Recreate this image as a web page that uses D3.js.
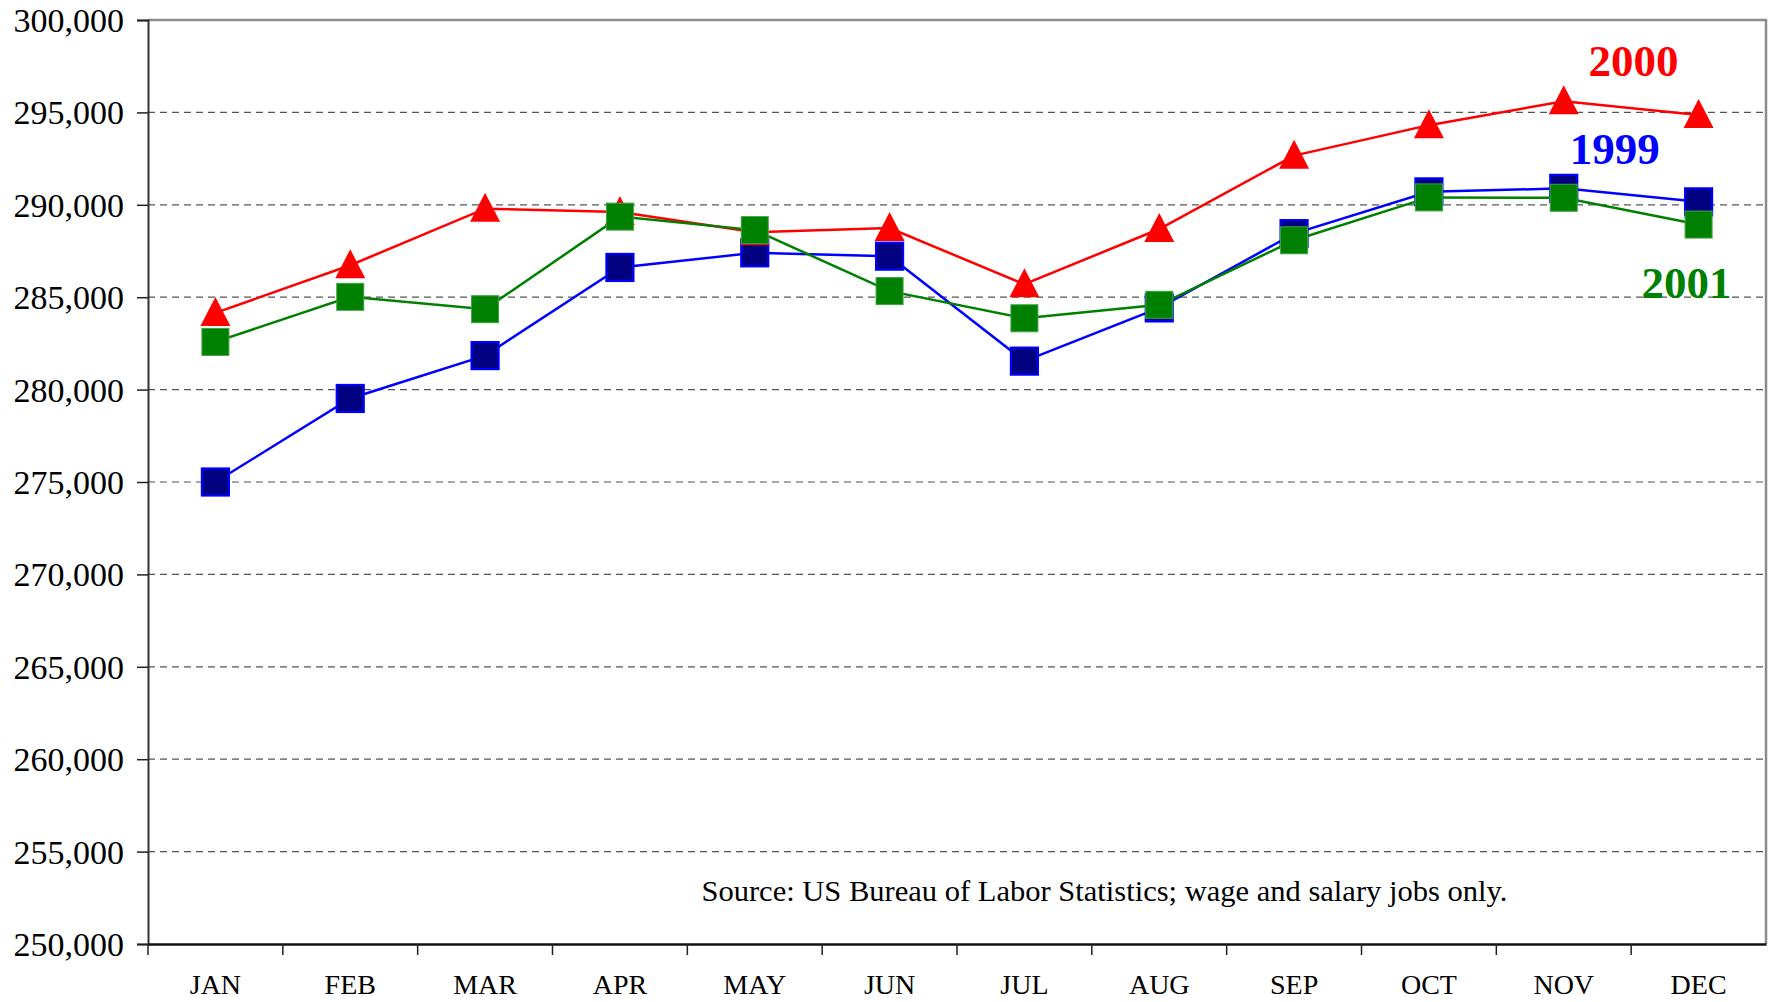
<!DOCTYPE html>
<html>
<head>
<meta charset="utf-8">
<script src="https://cdn.jsdelivr.net/npm/d3@7"></script>
<style>
  body { margin: 0; background: #fff; }
  text { font-family: "Liberation Serif", "DejaVu Serif", serif; }
</style>
</head>
<body>
<div id="vis1"></div>
<script>
// Declare constants
const FRAME_HEIGHT = 1002;
const FRAME_WIDTH = 1774;
const MARGINS = {left: 148, right: 8, top: 20, bottom: 58};

const VIS_HEIGHT = FRAME_HEIGHT - MARGINS.top - MARGINS.bottom;
const VIS_WIDTH = FRAME_WIDTH - MARGINS.left - MARGINS.right;

// data
const months = ["JAN", "FEB", "MAR", "APR", "MAY", "JUN", "JUL", "AUG", "SEP", "OCT", "NOV", "DEC"];
const jobs1999 = [275000, 279520, 281840, 286610, 287400, 287220, 281540, 284420, 288440, 290700, 290890, 290160];
const jobs2000 = [284150, 286730, 289790, 289610, 288510, 288740, 285700, 288690, 292660, 294310, 295600, 294860];
const jobs2001 = [282580, 285020, 284350, 289360, 288630, 285330, 283860, 284590, 288080, 290400, 290380, 288930];
const yTicks = [250000, 255000, 260000, 265000, 270000, 275000, 280000, 285000, 290000, 295000, 300000];
const sourceNote = "Source: US Bureau of Labor Statistics; wage and salary jobs only.";

const FRAME1 = d3.select("#vis1")
  .append("svg")
    .attr("height", FRAME_HEIGHT)
    .attr("width", FRAME_WIDTH)
    .attr("class", "frame");

const G = FRAME1.append("g")
  .attr("transform", "translate(" + MARGINS.left + "," + MARGINS.top + ")");

// scales
const X_SCALE = d3.scaleBand()
  .domain(months)
  .range([0, VIS_WIDTH])
  .padding(0);

const Y_SCALE = d3.scaleLinear()
  .domain([250000, 300000])
  .range([VIS_HEIGHT, 0]);

const xc = (m) => X_SCALE(m) + X_SCALE.bandwidth() / 2;

// dashed gridlines
G.selectAll(".grid")
  .data(yTicks.filter((d) => d > 250000 && d < 300000))
  .enter()
  .append("line")
    .attr("x1", 0)
    .attr("x2", VIS_WIDTH)
    .attr("y1", (d) => Y_SCALE(d))
    .attr("y2", (d) => Y_SCALE(d))
    .attr("stroke", "#555")
    .attr("stroke-width", 1.2)
    .attr("stroke-dasharray", "7,5");

// top and right border (gray)
G.append("path")
  .attr("d", "M0," + Y_SCALE(300000) + "H" + VIS_WIDTH + "V" + VIS_HEIGHT)
  .attr("fill", "none")
  .attr("stroke", "#8c8c8c")
  .attr("stroke-width", 2.5);

// y axis
const yAxis = G.append("g")
  .call(d3.axisLeft(Y_SCALE).tickValues(yTicks).tickSize(11).tickPadding(13)
    .tickFormat(d3.format(",")));
yAxis.select(".domain").attr("stroke", "#333").attr("stroke-width", 2);
yAxis.selectAll(".tick line").attr("stroke", "#222").attr("stroke-width", 1.5);
yAxis.selectAll("text")
  .attr("font-size", "34px")
  .attr("fill", "#000")
  .attr("dy", "0.34em");

// x axis: labels centred in bands, ticks on band boundaries
const xAxis = G.append("g")
  .attr("transform", "translate(0," + VIS_HEIGHT + ")")
  .call(d3.axisBottom(X_SCALE).tickSize(0).tickPadding(30));
xAxis.select(".domain").attr("stroke", "#111").attr("stroke-width", 2.5);
xAxis.selectAll("text")
  .attr("font-size", "28px")
  .attr("fill", "#000");
xAxis.selectAll(".bound")
  .data(months)
  .enter()
  .append("line")
    .attr("x1", (d) => X_SCALE(d))
    .attr("x2", (d) => X_SCALE(d))
    .attr("y1", 0)
    .attr("y2", 11)
    .attr("stroke", "#222")
    .attr("stroke-width", 1.5);

// series
const series = [
  {name: "1999", values: jobs1999, line: "#0000ff", fill: "#000080", stroke: "#0000ff", shape: "square"},
  {name: "2000", values: jobs2000, line: "#ff0000", fill: "#ff0000", stroke: "#ff0000", shape: "triangle"},
  {name: "2001", values: jobs2001, line: "#008000", fill: "#008000", stroke: "#3fa33f", shape: "square"}
];

const lineGen = d3.line()
  .x((d, i) => xc(months[i]))
  .y((d) => Y_SCALE(d));

series.forEach((s) => {
  G.append("path")
    .datum(s.values)
    .attr("d", lineGen)
    .attr("fill", "none")
    .attr("stroke", s.line)
    .attr("stroke-width", 2.5);

  const marks = G.selectAll(".m" + s.name)
    .data(s.values)
    .enter()
    .append("g")
      .attr("transform", (d, i) => "translate(" + xc(months[i]) + "," + Y_SCALE(d) + ")");

  if (s.shape === "square") {
    marks.append("rect")
      .attr("x", -13.5)
      .attr("y", -13.5)
      .attr("width", 27)
      .attr("height", 27)
      .attr("fill", s.fill)
      .attr("stroke", s.stroke)
      .attr("stroke-width", s.name === "1999" ? 2.2 : 1);
  } else {
    marks.append("path")
      .attr("d", "M0,-16L15,13L-15,13Z")
      .attr("fill", s.fill);
  }
});

// series labels
const labels = [
  {text: "2000", color: "#ff0000", month: "DEC", value: 296970, dx: -65},
  {text: "1999", color: "#0000ff", month: "NOV", value: 292230, dx: 51},
  {text: "2001", color: "#008000", month: "DEC", value: 284980, dx: -12}
];

G.selectAll(".lab")
  .data(labels)
  .enter()
  .append("text")
    .attr("x", (d) => xc(d.month) + d.dx)
    .attr("y", (d) => Y_SCALE(d.value))
    .attr("text-anchor", "middle")
    .attr("font-size", "45px")
    .attr("font-weight", "bold")
    .attr("fill", (d) => d.color)
    .text((d) => d.text);

// source note
G.append("text")
  .attr("x", xc("JUL") + 80)
  .attr("y", Y_SCALE(252300))
  .attr("text-anchor", "middle")
  .attr("font-size", "30px")
  .attr("textLength", 806)
  .attr("lengthAdjust", "spacingAndGlyphs")
  .attr("fill", "#000")
  .text(sourceNote);
</script>
</body>
</html>
